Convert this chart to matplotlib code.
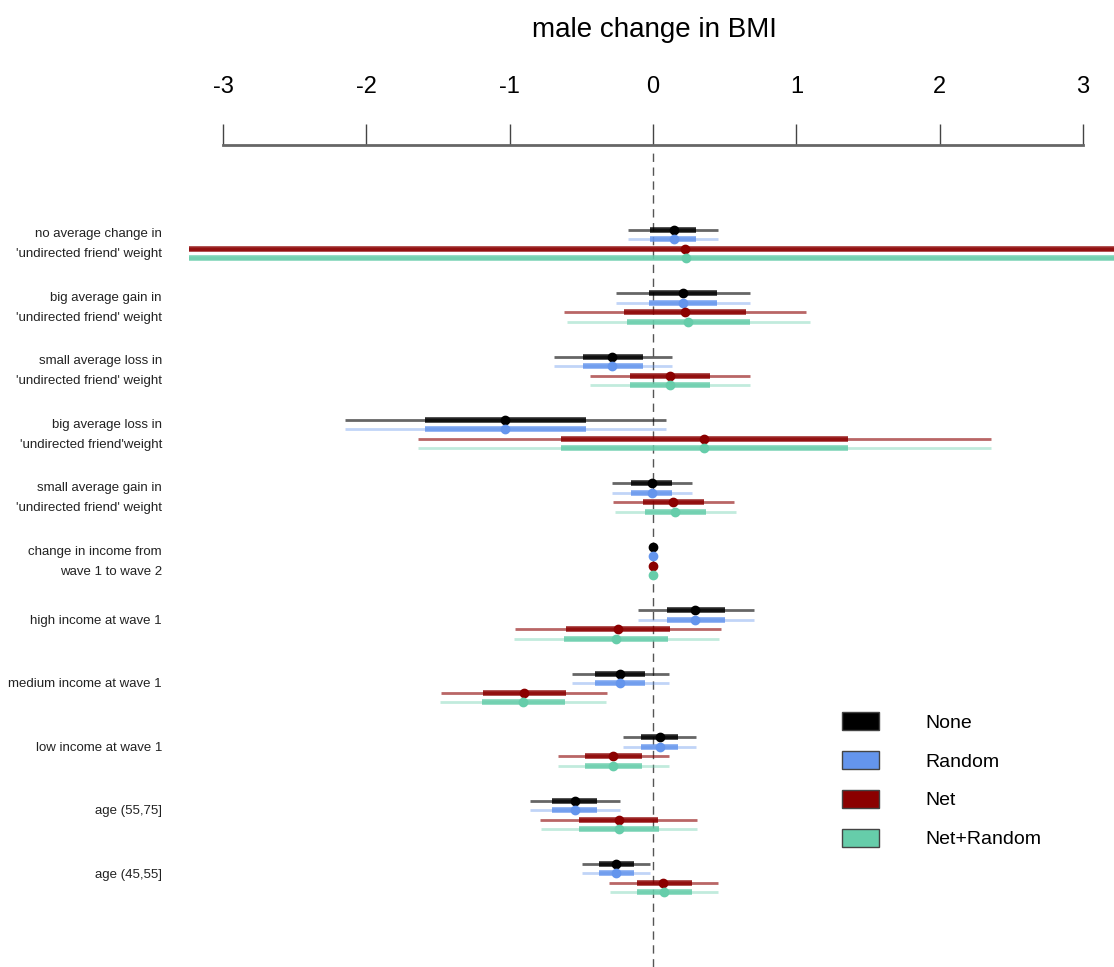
import numpy as np
import matplotlib.pyplot as plt
from matplotlib.patches import Patch

plt.rcParams['font.family'] = ['Liberation Sans', 'DejaVu Sans']

labels = [
    "no average change in\n'undirected friend' weight",
    "big average gain in\n'undirected friend' weight",
    "small average loss in\n'undirected friend' weight",
    "big average loss in\n'undirected friend'weight",
    "small average gain in\n'undirected friend' weight",
    "change in income from\nwave 1 to wave 2",
    "high income at wave 1",
    "medium income at wave 1",
    "low income at wave 1",
    "age (55,75]",
    "age (45,55]",
]

# estimates, outer interval (thin) and inner interval (thick) per model
none_est = [0.144, 0.207, -0.283, -1.033, -0.009, 0.003, 0.293, -0.230, 0.049, -0.547, -0.261]
none_lo = [-0.171, -0.260, -0.694, -2.152, -0.288, -0.001, -0.107, -0.568, -0.209, -0.856, -0.498]
none_hi = [0.454, 0.674, 0.133, 0.089, 0.270, 0.007, 0.705, 0.109, 0.300, -0.233, -0.021]
none_lo50 = [-0.022, -0.027, -0.490, -1.591, -0.153, 0.001, 0.096, -0.402, -0.084, -0.703, -0.379]
none_hi50 = [0.302, 0.445, -0.068, -0.468, 0.135, 0.005, 0.502, -0.056, 0.177, -0.389, -0.135]

random_est = [0.144, 0.207, -0.283, -1.033, -0.009, 0.003, 0.295, -0.230, 0.049, -0.547, -0.261]
random_lo = [-0.171, -0.260, -0.694, -2.152, -0.288, -0.001, -0.107, -0.568, -0.209, -0.856, -0.498]
random_hi = [0.454, 0.674, 0.133, 0.089, 0.270, 0.007, 0.705, 0.109, 0.300, -0.233, -0.021]
random_lo50 = [-0.022, -0.027, -0.490, -1.591, -0.153, 0.001, 0.096, -0.402, -0.084, -0.703, -0.379]
random_hi50 = [0.302, 0.445, -0.068, -0.468, 0.135, 0.005, 0.502, -0.056, 0.177, -0.389, -0.135]

net_est = [0.225, 0.221, 0.116, 0.356, 0.142, 0.003, -0.247, -0.900, -0.277, -0.240, 0.072]
net_lo = [-4.8, -0.622, -0.441, -1.641, -0.277, -0.001, -0.963, -1.477, -0.665, -0.786, -0.305]
net_hi = [5.2, 1.066, 0.680, 2.359, 0.565, 0.007, 0.472, -0.319, 0.109, 0.307, 0.456]
net_lo50 = [-3.6, -0.201, -0.163, -0.644, -0.072, 0.001, -0.609, -1.189, -0.472, -0.516, -0.114]
net_hi50 = [4.1, 0.647, 0.399, 1.362, 0.356, 0.005, 0.119, -0.609, -0.079, 0.037, 0.272]

netrand_est = [0.233, 0.244, 0.116, 0.356, 0.153, 0.003, -0.258, -0.905, -0.277, -0.240, 0.077]
netrand_lo = [-4.8, -0.597, -0.441, -1.641, -0.265, -0.001, -0.972, -1.484, -0.665, -0.782, -0.300]
netrand_hi = [5.2, 1.094, 0.680, 2.359, 0.577, 0.007, 0.461, -0.328, 0.109, 0.307, 0.456]
netrand_lo50 = [-3.6, -0.181, -0.163, -0.644, -0.056, 0.001, -0.619, -1.196, -0.472, -0.514, -0.112]
netrand_hi50 = [4.1, 0.675, 0.399, 1.362, 0.368, 0.005, 0.107, -0.614, -0.079, 0.042, 0.272]

models = ["None", "Random", "Net", "Net+Random"]
colors = ["#000000", "#6495ED", "#8B0000", "#66CDAA"]
thin_alpha = [0.6, 0.4, 0.6, 0.4]
series = [
    (none_est, none_lo, none_hi, none_lo50, none_hi50),
    (random_est, random_lo, random_hi, random_lo50, random_hi50),
    (net_est, net_lo, net_hi, net_lo50, net_hi50),
    (netrand_est, netrand_lo, netrand_hi, netrand_lo50, netrand_hi50),
]
offsets = [-0.225, -0.075, 0.075, 0.225]

fig = plt.figure(figsize=(11.14, 9.67), dpi=100)
ax = fig.add_axes([189 / 1114, 0, 925 / 1114, 822 / 967])

y = np.arange(len(labels))
for (est, lo, hi, lo50, hi50), col, off, a in zip(series, colors, offsets, thin_alpha):
    yy = y + off
    ax.hlines(yy, lo, hi, color=col, lw=2, alpha=a, capstyle='butt')
    ax.hlines(yy, lo50, hi50, color=col, lw=4, alpha=0.85, capstyle='butt')
    ax.plot(est, yy, 'o', color=col, ms=6, mec=col)

ax.axvline(0, ymax=0.99, color='#555555', lw=1, ls=(0, (6, 4)), zorder=0)

ax.set_xlim(-3.237, 3.216)
ax.set_ylim(11.40, -1.56)

ax.xaxis.tick_top()
ax.set_xticks([-3, -2, -1, 0, 1, 2, 3])
ax.set_xticklabels(['-3', '-2', '-1', '0', '1', '2', '3'])
ax.tick_params(axis='x', direction='out', length=15, width=1, color='#444444',
               labelsize=17, pad=19)
ax.set_yticks(y - 0.08)
ax.set_yticklabels(labels, fontsize=9.5, linespacing=1.9, color='#222222')
ax.tick_params(axis='y', length=0, pad=19.5)

for s in ['left', 'right', 'bottom']:
    ax.spines[s].set_visible(False)
ax.spines['top'].set_bounds(-3, 3)
ax.spines['top'].set_color('#666666')
ax.spines['top'].set_linewidth(2)

fig.text(654 / 1114, 1 - 30 / 967, 'male change in BMI', ha='center', va='center',
         fontsize=20)

handles = [Patch(facecolor=c, edgecolor='#444444', lw=1) for c in colors]
fig.legend(handles, models, loc='upper left', bbox_to_anchor=(842 / 1114, 1 - 712 / 967),
           frameon=False, fontsize=14, handlelength=1.9, handleheight=1.03,
           handletextpad=2.4, labelspacing=1.0, borderpad=0, borderaxespad=0)

fig.savefig('out.png', dpi=100)
